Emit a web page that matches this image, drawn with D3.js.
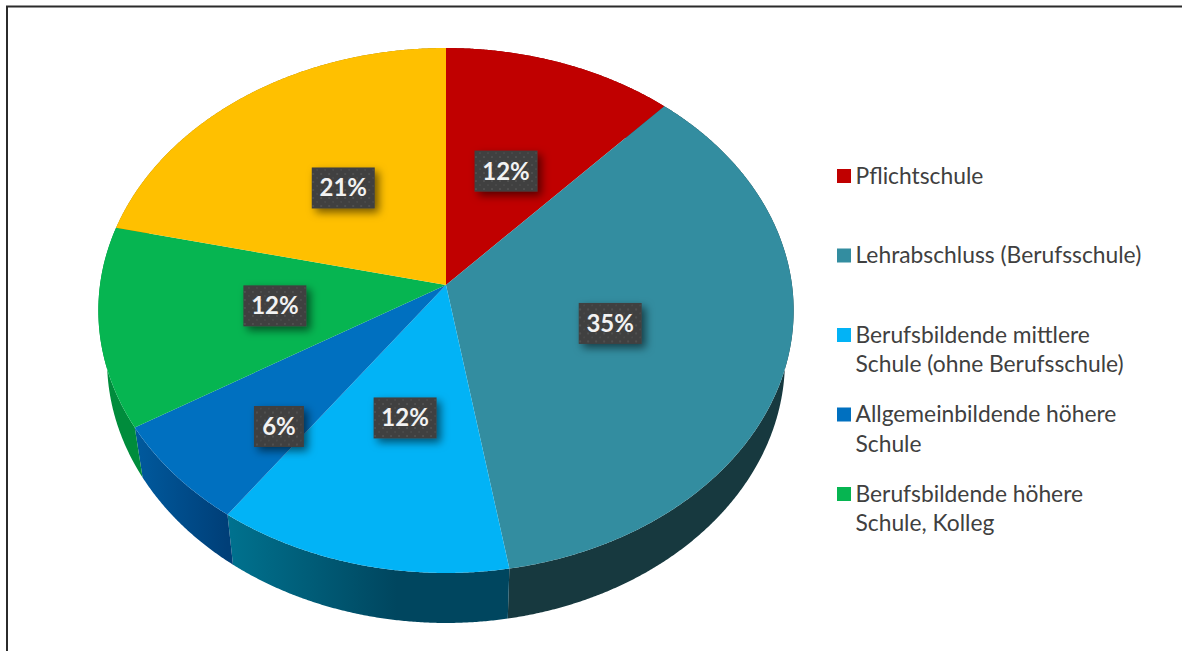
<!DOCTYPE html>
<html>
<head>
<meta charset="utf-8">
<script src="https://cdn.jsdelivr.net/npm/d3@7"></script>
<style>
  html, body { margin: 0; padding: 0; background: #fff; overflow: hidden; }
  svg { display: block; }
  text { font-family: Lato, "Noto Sans", sans-serif; }
</style>
</head>
<body>
<div id="chart"></div>
<script>
// values, the labels show them rounded
var shares = [11.6, 34.9, 12.3, 6.3, 12.1, 21.0];
var faceColors = ["#c00000", "#338da0", "#02b3f6", "#0070c0", "#06b551", "#ffc000"];
var wallColors = [
    ["#800000", "#800000"],
    ["#17393f", "#17393f"],
    ["#00728f", "#00465f"],
    ["#005a9e", "#003f78"],
    ["#008c3c", "#008c3c"],
    ["#a07800", "#a07800"]
];
// the last slice has no entry in the legend of the original
var legendNames = [
    ["Pflichtschule"],
    ["Lehrabschluss (Berufsschule)"],
    ["Berufsbildende mittlere", "Schule (ohne Berufsschule)"],
    ["Allgemeinbildende höhere", "Schule"],
    ["Berufsbildende höhere", "Schule, Kolleg"]
];

var w = 1182, h = 651;
var tilt = 0.0971;      // perspective of the pie, front edge is closer
var wallDepth = 50;
var wallShrink = 0.975;
// labels were moved by hand in the original, small slice the most
var labelNudge = [[0, 2], [-4, 1], [0, 0], [-36, 50], [1, 0], [1, 1]];

var svg = d3.select("#chart").append("svg")
    .attr("width", w)
    .attr("height", h);

var defs = svg.append("defs");

// x and y of the top face, before perspective
var xScale = d3.scaleLinear().domain([-1, 1]).range([446 - 346, 446 + 346]);
var yScale = d3.scaleLinear().domain([-1, 1]).range([285 - 260, 285 + 260]);
var legendY = d3.scaleLinear().domain([0, 4]).range([176, 494]);

var pie = d3.pie().sort(null);
var slices = pie(shares);

function project(angle, radius) {
    var u = Math.sin(angle) * radius;
    var v = -Math.cos(angle) * radius;
    var p = 1 - tilt * v;
    return [xScale(u / p), yScale(v / p)];
}

function lower(pt) {
    return [446 + (pt[0] - 446) * wallShrink, pt[1] + wallDepth];
}

function arcPoints(d) {
    var steps = Math.ceil((d.endAngle - d.startAngle) / 0.005);
    return d3.range(steps + 1).map(function(i) {
        return project(d.startAngle + (d.endAngle - d.startAngle) * i / steps, 1);
    });
}

var line = d3.line();

// frame, only left and top are in the picture
svg.append("path")
    .attr("d", line([[7, h], [7, 6.5], [w, 6.5]]))
    .attr("fill", "none")
    .attr("stroke", "#2b2b2b")
    .attr("stroke-width", 2);

slices.forEach(function(d, i) {
    var pts = arcPoints(d);
    var grad = defs.append("linearGradient")
        .attr("id", "wall" + i)
        .attr("gradientUnits", "userSpaceOnUse")
        .attr("x1", d3.min(pts, function(p) { return p[0]; }))
        .attr("x2", d3.max(pts, function(p) { return p[0]; }))
        .attr("y1", 0)
        .attr("y2", 0);
    grad.append("stop").attr("offset", 0).attr("stop-color", wallColors[i][0]);
    grad.append("stop").attr("offset", i === 2 ? 0.6 : 1).attr("stop-color", wallColors[i][1]);
});

svg.append("g").selectAll("path")
    .data(slices)
    .enter()
    .append("path")
    .attr("d", function(d) {
        var pts = arcPoints(d);
        return line(pts.concat(pts.slice().reverse().map(lower))) + "Z";
    })
    .attr("fill", function(d, i) { return "url(#wall" + i + ")"; });

svg.append("g").selectAll("path")
    .data(slices)
    .enter()
    .append("path")
    .attr("d", function(d) {
        return line([project(0, 0)].concat(arcPoints(d))) + "Z";
    })
    .attr("fill", function(d, i) { return faceColors[i]; });

// dark label boxes with a dotted texture
var dots = defs.append("pattern")
    .attr("id", "dots")
    .attr("patternUnits", "userSpaceOnUse")
    .attr("width", 8)
    .attr("height", 8);
dots.append("rect").attr("width", 8).attr("height", 8).attr("fill", "#3f3f3f");
dots.append("rect").attr("x", 1).attr("y", 1).attr("width", 2).attr("height", 2).attr("fill", "#505050");
dots.append("rect").attr("x", 5).attr("y", 5).attr("width", 2).attr("height", 2).attr("fill", "#484848");

var shadow = defs.append("filter")
    .attr("id", "shadow")
    .attr("x", "-30%").attr("y", "-30%")
    .attr("width", "170%").attr("height", "170%");
shadow.append("feDropShadow")
    .attr("dx", 4).attr("dy", 4)
    .attr("stdDeviation", 4)
    .attr("flood-color", "#000")
    .attr("flood-opacity", 0.55);

var labels = svg.append("g").selectAll("g")
    .data(slices)
    .enter()
    .append("g")
    .attr("transform", function(d, i) {
        var pt = project((d.startAngle + d.endAngle) / 2, 0.5);
        return "translate(" + (pt[0] + labelNudge[i][0]) + "," + (pt[1] + labelNudge[i][1]) + ")";
    });

labels.append("rect")
    .attr("x", function(d) { return d.value < 10 ? -25 : -31.5; })
    .attr("y", -20.5)
    .attr("width", function(d) { return d.value < 10 ? 50 : 63; })
    .attr("height", 41)
    .attr("fill", "url(#dots)")
    .attr("filter", "url(#shadow)");

labels.append("text")
    .attr("text-anchor", "middle")
    .attr("y", 8.5)
    .attr("font-size", 24)
    .attr("font-weight", 700)
    .attr("fill", "#f2f2f2")
    .text(function(d) { return Math.round(d.value) + "%"; });

var legend = svg.append("g").selectAll("g")
    .data(legendNames)
    .enter()
    .append("g")
    .attr("transform", function(d, i) { return "translate(837," + legendY(i) + ")"; });

legend.append("rect")
    .attr("y", -7)
    .attr("width", 14)
    .attr("height", 14)
    .attr("fill", function(d, i) { return faceColors[i]; });

legend.append("text")
    .attr("font-size", 22.8)
    .attr("fill", "#404040")
    .selectAll("tspan")
    .data(function(d) { return d; })
    .enter()
    .append("tspan")
    .attr("x", 18.5)
    .attr("y", function(d, i) { return 7.5 + i * 29.5; })
    .text(function(d) { return d; });
</script>
</body>
</html>
